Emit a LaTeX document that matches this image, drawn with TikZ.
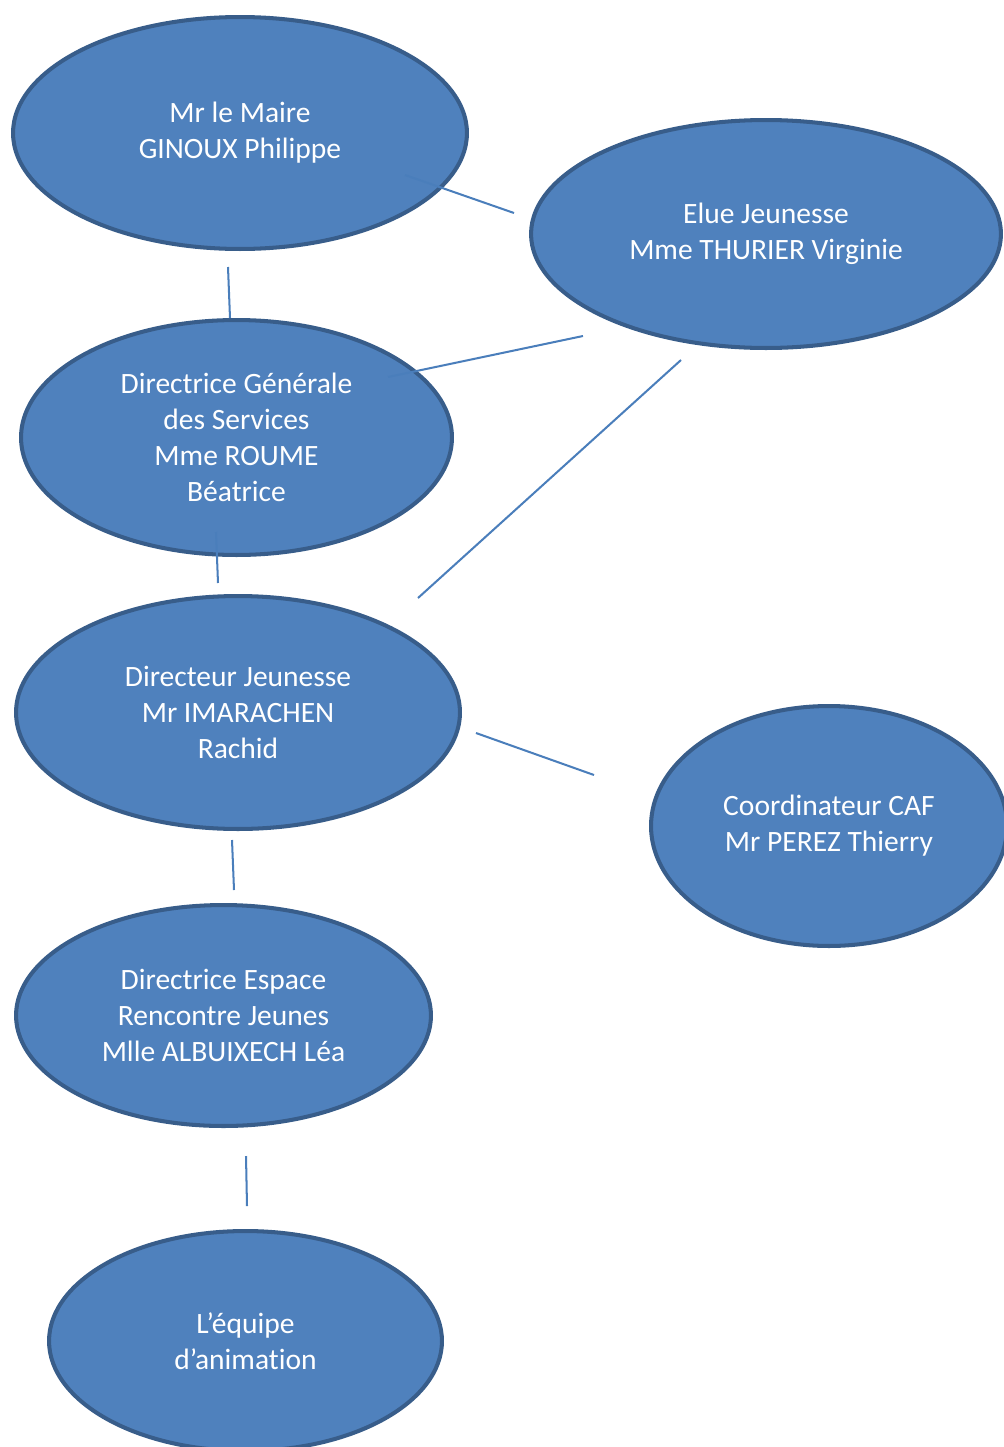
\documentclass[tikz,border=0pt]{standalone}
\usepackage{fontspec}
\setmainfont{Carlito}[Ligatures=NoCommon]
\usetikzlibrary{shapes.geometric}
\definecolor{bubblefill}{HTML}{4F81BD}
\definecolor{bubbleline}{HTML}{385D8A}
\definecolor{linkline}{HTML}{4A7EBB}
\tikzset{bubble/.style={ellipse, fill=bubblefill, draw=bubbleline, line width=2.3pt, text=white, align=center, inner sep=0pt, font=\fontsize{16.8}{20.4}\selectfont}}
\tikzset{link/.style={linkline, line width=1.15pt}}

\begin{document}
\begin{tikzpicture}[x=0.02cm,y=-0.02cm]
   \useasboundingbox (0,0) rectangle (1004,1447);
   \clip (0,0) rectangle (1004,1447);
   \node[bubble, minimum width=9.08cm, minimum height=4.64cm] (m) at (240,133)    {Mr le Maire\\GINOUX Philippe};
   \node[bubble, minimum width=9.40cm, minimum height=4.56cm] (e) at (766,234)    {Elue Jeunesse\\Mme THURIER Virginie};
   \node[bubble, minimum width=8.62cm, minimum height=4.70cm] (d) at (236.5,437.5) {Directrice Générale\\des Services\\Mme ROUME\\Béatrice};
   \node[bubble, minimum width=8.88cm, minimum height=4.66cm] (j) at (238,712.5)  {Directeur Jeunesse\\Mr IMARACHEN\\Rachid};
   \node[bubble, minimum width=7.12cm, minimum height=4.80cm] (c) at (829,826)    {Coordinateur CAF\\Mr PEREZ Thierry};
   \node[bubble, minimum width=8.30cm, minimum height=4.42cm] (r) at (223.5,1015.5) {Directrice Espace\\Rencontre Jeunes\\Mlle ALBUIXECH Léa};
   \node[bubble, minimum width=7.86cm, minimum height=4.40cm] (a) at (245.5,1341) {L’équipe\\d’animation};
   \coordinate (me1) at (405,175);  \coordinate (me2) at (514,213);
   \coordinate (md1) at (228,267);  \coordinate (md2) at (230,318);
   \coordinate (ed1) at (583,336);  \coordinate (ed2) at (388,377);
   \coordinate (ej1) at (681,360);  \coordinate (ej2) at (418,598);
   \coordinate (dj1) at (216,532);  \coordinate (dj2) at (218,583);
   \coordinate (jc1) at (476,733);  \coordinate (jc2) at (594,775);
   \coordinate (jr1) at (232,840);  \coordinate (jr2) at (234,890);
   \coordinate (ra1) at (246,1156); \coordinate (ra2) at (247,1206);
   \draw[link] (me1) -- (me2);
   \draw[link] (md1) -- (md2);
   \draw[link] (ed1) -- (ed2);
   \draw[link] (ej1) -- (ej2);
   \draw[link] (dj1) -- (dj2);
   \draw[link] (jc1) -- (jc2);
   \draw[link] (jr1) -- (jr2);
   \draw[link] (ra1) -- (ra2);
\end{tikzpicture}
\end{document}
